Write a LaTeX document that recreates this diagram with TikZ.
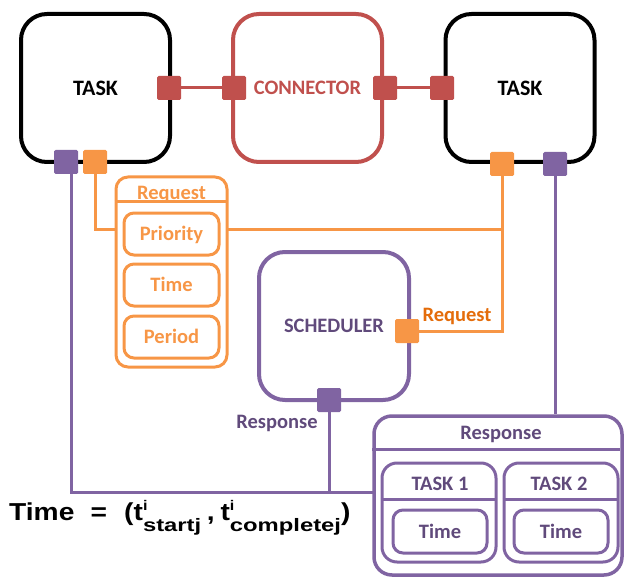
\documentclass[tikz,border=0pt]{standalone}
\usepackage{fontspec}
\setmainfont{Carlito}
\newfontfamily\arialfont{Liberation Sans}
\definecolor{cred}{HTML}{C0504D}
\definecolor{corange}{HTML}{F79646}
\definecolor{cdorange}{HTML}{E46C0A}
\definecolor{cpurple}{HTML}{8064A2}
\definecolor{cdpurple}{HTML}{604A7B}
\newcommand\subsz{\fontsize{18}{19}\selectfont}
\newcommand\tij[1]{t\rlap{\raisebox{10pt}{\fontsize{14}{15}\selectfont i}}\raisebox{-11pt}{\scalebox{1.15}[1]{\subsz #1}}}
\begin{document}
\begin{tikzpicture}[x=1pt,y=-1pt,
  txt/.style={inner sep=0pt, text height=13.2pt, text depth=0pt, font=\fontsize{20.5}{24}\selectfont\bfseries},
  bigtxt/.style={text height=14.2pt, font=\fontsize{22}{24}\selectfont\bfseries},
  bigbox/.style={draw, line width=4pt, rounded corners=26pt, minimum width=149pt, minimum height=148pt, txt},
  sq/.style={fill, minimum size=24pt, inner sep=0pt, rounded corners=1.5pt},
  innerbox/.style={draw, line width=3pt, rounded corners=10pt, txt},
  link/.style={line width=3pt}]
\useasboundingbox (0,0) rectangle (625,578);

% top row
\node[bigbox, bigtxt, draw=black, text=black] (t1) at (95.5,88) {TASK};
\node[bigbox, draw=cred, text=cred, font=\fontsize{20.5}{24}\selectfont\bfseries] (con) at (307.5,88) {CONNECTOR};
\node[bigbox, bigtxt, draw=black, text=black] (t2) at (520,88) {TASK};

\node[sq, fill=cred] (t1R) at (169,88) {};
\node[sq, fill=cred] (cL) at (234,88) {};
\node[sq, fill=cred] (cR) at (385,88) {};
\node[sq, fill=cred] (t2L) at (442,88) {};

\node[sq, fill=cpurple] (t1P) at (66,162) {};
\node[sq, fill=corange] (t1O) at (95,162) {};
\node[sq, fill=corange] (t2O) at (502,164) {};
\node[sq, fill=cpurple] (t2P) at (555,164) {};

\draw[link, cred] (t1R) -- (cL);
\draw[link, cred] (cR) -- (t2L);

% request box
\node[draw=corange, line width=3pt, rounded corners=12pt, minimum width=111pt, minimum height=190pt] (req) at (171.5,272) {};
\draw[corange, line width=3pt] (req.north west) ++(0,26) -- ++(111,0);
\node[txt, text=corange] (reqt) at (171.5,193) {Request};
\node[innerbox, draw=corange, text=corange, minimum width=95pt, minimum height=42pt] (pri) at (171.5,234) {Priority};
\node[innerbox, draw=corange, text=corange, minimum width=95pt, minimum height=42pt] (tim) at (171.5,285) {Time};
\node[innerbox, draw=corange, text=corange, minimum width=95pt, minimum height=42pt] (per) at (171.5,337) {Period};

% scheduler
\node[bigbox, draw=cpurple, text=cdpurple, minimum width=150pt, minimum height=148pt] (sch) at (334,326) {SCHEDULER};
\node[sq, fill=corange] (schR) at (407,331) {};
\node[sq, fill=cpurple] (schB) at (329,400) {};
\node[txt, text=cdorange] (reqlab) at (457,315) {Request};
\node[txt, text=cdpurple] (resplab) at (277,422) {Response};

% response box
\node[draw=cpurple, line width=3.5pt, rounded corners=18pt, minimum width=248pt, minimum height=159pt] (resp) at (498,495.5) {};
\draw[cpurple, line width=3pt] (resp.north west) ++(0,35) -- ++(248,0);
\node[txt, text=cdpurple] (respt) at (501,433) {Response};
\node[draw=cpurple, line width=3pt, rounded corners=15pt, minimum width=114pt, minimum height=99pt] (k1) at (439,512.5) {};
\draw[cpurple, line width=3pt] (k1.north west) ++(0,38) -- ++(114,0);
\node[txt, text=cdpurple] (k1t) at (440,484) {TASK 1};
\node[innerbox, draw=cpurple, text=cdpurple, minimum width=94pt, minimum height=43pt] (k1time) at (440,531.5) {Time};
\node[draw=cpurple, line width=3pt, rounded corners=15pt, minimum width=114pt, minimum height=99pt] (k2) at (561,512.5) {};
\draw[cpurple, line width=3pt] (k2.north west) ++(0,38) -- ++(114,0);
\node[txt, text=cdpurple] (k2t) at (559,484) {TASK 2};
\node[innerbox, draw=cpurple, text=cdpurple, minimum width=94pt, minimum height=43pt] (k2time) at (561,531.5) {Time};

% orange connectors
\coordinate (reqIn) at (115.5,229);
\coordinate (reqOut) at (227.5,229);
\draw[link, corange] (t1O.south) |- (reqIn);
\draw[link, corange] (reqOut) -| (t2O.south);
\draw[link, corange] (t2O.south) |- (schR.east);

% purple connectors
\coordinate (pin) at (373,492);
\draw[link, cpurple] ([xshift=5pt]t1P.south) |- (pin);
\draw[link, cpurple] (schB.south) -- (schB.south |- pin);
\draw[link, cpurple] (t2P.south) -- (t2P.south |- resp.north);

% formula
\node[anchor=base west, inner sep=0pt, font=\arialfont\bfseries\fontsize{24.5}{28}\selectfont] (form) at (9,520)
  {\scalebox{1.15}[1]{Time\hspace{14pt}=\hspace{15pt}(\tij{startj}\hspace{5pt},\hspace{5pt}\tij{completej})}};
\end{tikzpicture}
\end{document}
